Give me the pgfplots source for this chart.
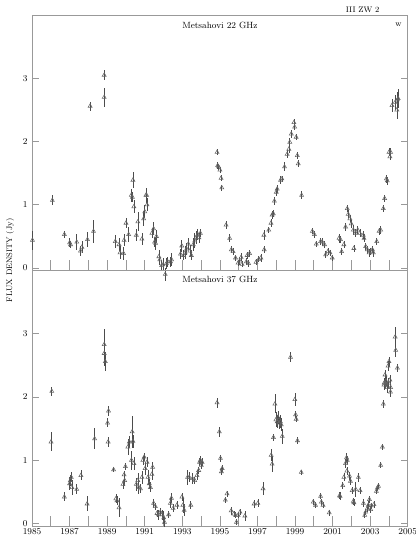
\documentclass[border=0pt]{standalone}
\usepackage{pgfplots}
\usepackage{pgfplotstable}
\pgfplotsset{compat=1.18}
\usetikzlibrary{calc}
\definecolor{axgray}{gray}{0.6}
\definecolor{mkgray}{gray}{0.4}
\definecolor{ebgray}{gray}{0.3}

% Metsahovi 22 GHz: epoch, flux (Jy), error
\pgfplotstableread{
t f e
1985.02 0.44 0.15
1986.08 1.07 0.08
1986.72 0.53 0.05
1987.00 0.40 0.07
1987.05 0.37 0.06
1987.38 0.41 0.12
1987.58 0.27 0.08
1987.65 0.33 0.10
1987.95 0.45 0.12
1988.09 2.56 0.07
1988.27 0.58 0.18
1988.84 3.05 0.08
1988.84 2.70 0.15
1989.43 0.42 0.10
1989.63 0.37 0.10
1989.68 0.24 0.10
1989.87 0.23 0.10
1989.90 0.44 0.10
1990.00 0.71 0.08
1990.14 0.53 0.12
1990.28 1.15 0.10
1990.34 1.12 0.08
1990.37 1.39 0.12
1990.42 0.97 0.10
1990.55 0.52 0.10
1990.63 0.73 0.15
1990.85 0.46 0.10
1990.94 0.78 0.12
1991.00 0.89 0.10
1991.06 1.15 0.12
1991.10 1.15 0.10
1991.12 1.00 0.10
1991.38 0.55 0.08
1991.47 0.62 0.10
1991.52 0.41 0.08
1991.58 0.39 0.10
1991.62 0.50 0.10
1991.75 0.18 0.10
1991.80 0.13 0.08
1991.90 0.04 0.08
1991.97 0.05 0.10
1992.09 -0.10 0.10
1992.15 0.07 0.08
1992.22 0.10 0.08
1992.37 0.10 0.08
1992.43 0.13 0.10
1992.90 0.22 0.08
1992.97 0.35 0.10
1993.07 0.20 0.08
1993.15 0.24 0.10
1993.23 0.30 0.10
1993.32 0.38 0.10
1993.40 0.27 0.10
1993.48 0.20 0.08
1993.58 0.37 0.10
1993.66 0.43 0.12
1993.74 0.48 0.10
1993.82 0.53 0.08
1993.88 0.48 0.08
1993.96 0.55 0.06
1994.85 1.83 0.05
1994.88 1.62 0.06
1994.93 1.60 0.05
1995.00 1.55 0.05
1995.06 1.42 0.05
1995.10 1.27 0.05
1995.33 0.68 0.06
1995.52 0.47 0.06
1995.61 0.29 0.06
1995.70 0.26 0.05
1995.83 0.16 0.05
1995.97 0.08 0.05
1996.05 0.11 0.06
1996.13 0.17 0.06
1996.18 0.06 0.05
1996.41 0.10 0.05
1996.45 0.20 0.06
1996.53 0.07 0.05
1996.58 0.23 0.05
1996.92 0.09 0.05
1997.07 0.14 0.05
1997.18 0.16 0.06
1997.34 0.52 0.08
1997.36 0.29 0.06
1997.60 0.60 0.05
1997.72 0.71 0.06
1997.78 0.84 0.06
1997.84 0.86 0.06
1997.90 1.06 0.07
1998.00 1.20 0.06
1998.05 1.25 0.06
1998.23 1.39 0.06
1998.30 1.41 0.05
1998.44 1.60 0.07
1998.58 1.80 0.06
1998.67 1.88 0.06
1998.72 1.99 0.06
1998.80 2.12 0.06
1998.94 2.30 0.06
1998.98 2.23 0.05
1999.06 2.07 0.05
1999.12 1.78 0.05
1999.17 1.65 0.05
1999.35 1.15 0.06
1999.92 0.58 0.05
2000.03 0.53 0.05
2000.13 0.38 0.05
2000.36 0.42 0.06
2000.45 0.41 0.06
2000.57 0.37 0.06
2000.63 0.21 0.06
2000.75 0.26 0.05
2000.86 0.24 0.05
2000.98 0.16 0.05
2001.34 0.47 0.07
2001.42 0.45 0.06
2001.48 0.26 0.05
2001.60 0.37 0.06
2001.69 0.65 0.06
2001.78 0.94 0.06
2001.83 0.85 0.06
2001.92 0.78 0.06
2001.99 0.70 0.06
2002.10 0.60 0.08
2002.13 0.31 0.06
2002.22 0.55 0.06
2002.34 0.60 0.06
2002.45 0.55 0.06
2002.63 0.52 0.06
2002.67 0.47 0.06
2002.76 0.34 0.06
2002.85 0.29 0.06
2002.94 0.24 0.06
2003.03 0.26 0.06
2003.12 0.29 0.06
2003.17 0.24 0.06
2003.35 0.42 0.06
2003.47 0.58 0.06
2003.56 0.60 0.06
2003.70 0.94 0.06
2003.77 1.10 0.06
2003.86 1.41 0.06
2003.91 1.38 0.06
2004.00 1.83 0.06
2004.05 1.76 0.06
2004.09 1.83 0.06
2004.16 2.57 0.10
2004.33 2.62 0.12
2004.42 2.50 0.15
2004.45 2.66 0.12
2004.49 2.68 0.15
}\dataA

% Metsahovi 37 GHz: epoch, flux (Jy), error
\pgfplotstableread{
t f e
1986.01 1.29 0.15
1986.05 2.09 0.07
1986.72 0.42 0.07
1987.00 0.63 0.10
1987.04 0.68 0.08
1987.09 0.73 0.08
1987.12 0.57 0.12
1987.38 0.54 0.08
1987.60 0.76 0.08
1987.93 0.31 0.12
1988.33 1.34 0.17
1988.84 2.83 0.25
1988.84 2.69 0.20
1988.90 2.56 0.15
1989.02 1.59 0.07
1989.05 1.29 0.08
1989.07 1.78 0.08
1989.34 0.85 0.04
1989.46 0.39 0.07
1989.52 0.36 0.07
1989.63 0.25 0.15
1989.84 0.62 0.07
1989.90 0.77 0.06
1989.93 0.68 0.08
1989.97 0.90 0.05
1990.10 1.21 0.12
1990.18 1.29 0.10
1990.29 1.00 0.15
1990.33 1.45 0.25
1990.37 1.30 0.10
1990.42 0.95 0.10
1990.55 0.62 0.10
1990.63 0.68 0.12
1990.68 0.57 0.10
1990.77 0.55 0.07
1990.85 0.73 0.10
1990.90 1.00 0.07
1990.97 1.05 0.07
1991.02 0.87 0.10
1991.12 0.97 0.08
1991.17 0.73 0.12
1991.24 0.63 0.08
1991.30 0.57 0.08
1991.38 0.78 0.10
1991.42 0.89 0.08
1991.47 0.32 0.06
1991.56 0.27 0.06
1991.65 0.16 0.06
1991.74 0.14 0.08
1991.83 0.18 0.06
1991.92 0.14 0.08
1992.01 0.09 0.10
1992.05 0.02 0.08
1992.27 0.14 0.06
1992.36 0.32 0.08
1992.42 0.40 0.08
1992.51 0.24 0.06
1992.71 0.29 0.06
1992.98 0.42 0.06
1993.03 0.29 0.12
1993.10 0.21 0.10
1993.28 0.73 0.12
1993.37 0.73 0.08
1993.45 0.29 0.06
1993.54 0.71 0.08
1993.66 0.68 0.06
1993.78 0.76 0.08
1993.87 0.84 0.06
1993.92 0.97 0.06
1993.96 1.00 0.06
1994.01 0.92 0.06
1994.05 0.97 0.06
1994.85 1.91 0.08
1994.97 1.45 0.08
1995.03 1.03 0.06
1995.08 0.82 0.06
1995.12 0.87 0.06
1995.29 0.37 0.05
1995.38 0.47 0.05
1995.60 0.20 0.06
1995.74 0.15 0.05
1995.83 0.13 0.05
1995.88 0.02 0.05
1995.97 0.13 0.05
1996.07 0.18 0.05
1996.33 0.12 0.08
1996.82 0.31 0.06
1997.02 0.32 0.06
1997.30 0.55 0.10
1997.73 1.08 0.10
1997.78 0.94 0.12
1997.85 1.36 0.05
1997.93 1.89 0.15
1997.98 1.64 0.12
1998.05 1.61 0.10
1998.09 1.68 0.10
1998.14 1.59 0.10
1998.22 1.61 0.10
1998.27 1.56 0.10
1998.32 1.38 0.12
1998.76 2.63 0.08
1998.99 1.96 0.10
1999.03 1.72 0.06
1999.06 1.65 0.05
1999.13 1.31 0.05
1999.33 0.81 0.04
1999.97 0.34 0.05
2000.09 0.29 0.05
2000.36 0.43 0.05
2000.40 0.34 0.05
2000.49 0.29 0.05
2000.82 0.17 0.05
2001.37 0.44 0.06
2001.40 0.43 0.06
2001.54 0.60 0.06
2001.60 0.73 0.06
2001.69 0.95 0.07
2001.74 1.04 0.07
2001.76 0.83 0.06
2001.78 1.00 0.06
2001.90 0.75 0.06
2001.95 0.67 0.06
2002.04 0.52 0.06
2002.10 0.35 0.06
2002.13 0.33 0.06
2002.23 0.54 0.12
2002.37 0.73 0.07
2002.46 0.52 0.06
2002.64 0.32 0.06
2002.71 0.13 0.05
2002.76 0.18 0.05
2002.85 0.24 0.06
2002.90 0.29 0.06
2002.96 0.38 0.05
2003.03 0.22 0.05
2003.06 0.28 0.05
2003.20 0.30 0.05
2003.33 0.51 0.05
2003.38 0.56 0.05
2003.44 0.59 0.05
2003.56 0.92 0.05
2003.65 1.21 0.05
2003.70 1.89 0.07
2003.73 2.19 0.08
2003.74 2.22 0.08
2003.79 2.35 0.08
2003.82 2.21 0.08
2003.84 2.25 0.08
2003.90 2.15 0.08
2003.95 2.49 0.08
2003.99 2.22 0.08
2004.00 2.56 0.08
2004.05 2.27 0.08
2004.08 2.08 0.08
2004.09 2.15 0.08
2004.33 2.95 0.15
2004.36 2.74 0.10
2004.45 2.46 0.06
}\dataB

\pgfplotsset{
  panel/.style={
    scale only axis, width=375pt, height=255pt,
    xmin=1985, xmax=2005, ymin=-0.04, ymax=4.0,
    clip=false,
    axis line style={axgray, line width=0.8pt},
    tick style={axgray, line width=0.8pt},
    tick align=inside,
    xtick pos=bottom, ytick pos=both, yticklabel pos=left,
    ytick={0,1,2,3},
    xtick={1985,1987,...,2005},
    extra x ticks={1986,1988,...,2004},
    extra x tick labels={},
    minor x tick num=3,
    major tick length=7pt, minor tick length=6pt,
    x tick style={/pgfplots/major tick length=10pt},
    extra x tick style={/pgfplots/major tick length=10pt},
    xticklabel style={font=\small, yshift=1pt},
    yticklabel style={font=\small, xshift=-1pt},
    xticklabel={\pgfmathprintnumber[1000 sep={}]{\tick}},
  },
  pts/.style={
    only marks, mark=triangle, mark size=2.3pt,
    mark options={mkgray, line width=0.55pt},
    error bars/.cd, y dir=both, y explicit, error mark=none,
    error bar style={ebgray, line width=0.6pt},
  },
}

\begin{document}
\begin{tikzpicture}
\begin{axis}[panel, name=top, xticklabels={}, extra x tick labels={}]
\addplot+[pts] table[x=t, y=f, y error=e] {\dataA};
\node[font=\small] at (rel axis cs:0.5,0.96) {Metsahovi 22 GHz};
\node[font=\footnotesize] at (rel axis cs:0.975,0.96) {w};
\end{axis}
\begin{axis}[panel, name=bot, at={(top.south west)}, anchor=north west]
\addplot+[pts] table[x=t, y=f, y error=e] {\dataB};
\node[font=\small] at (rel axis cs:0.5,0.965) {Metsahovi 37 GHz};
\end{axis}
\node[font=\footnotesize, rotate=90] at ($(top.south west)+(-22pt,10pt)$) {FLUX DENSITY (Jy)};
\node[font=\footnotesize] at ($(top.north east)+(-45pt,5pt)$) {III ZW 2};
\pgfresetboundingbox
\path[use as bounding box] ($(top.north west)+(-32pt,15pt)$) rectangle ($(bot.south east)+(8pt,-13pt)$);
\end{tikzpicture}
\end{document}
